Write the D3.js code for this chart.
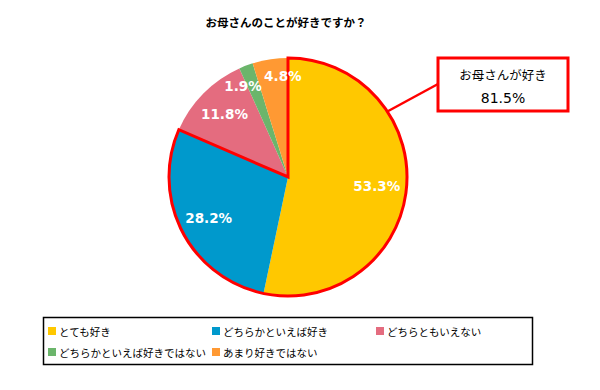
<!DOCTYPE html>
<html>
<head>
<meta charset="utf-8">
<script src="https://cdn.jsdelivr.net/npm/d3@7"></script>
<style>
	body { margin: 0; background: #fff; }
	svg text { font-family: "Noto Sans CJK JP", "Noto Sans", sans-serif; }
	svg text.num { font-family: "DejaVu Sans", "Noto Sans CJK JP", sans-serif; }
</style>
</head>
<body>
<div id="chart"></div>
<script>
var title = 'お母さんのことが好きですか？';
var categories = ['とても好き', 'どちらかといえば好き', 'どちらともいえない', 'どちらかといえば好きではない', 'あまり好きではない'];
var values = [53.3, 28.2, 11.8, 1.9, 4.8];
var colors = ['#ffc800', '#0099cc', '#e46c7f', '#6bb56b', '#ff9933'];
var calloutLabel = 'お母さんが好き';
var calloutCount = 2; // first two slices

// chart init
var width = 600;
var height = 390;
var cx = 288;
var cy = 177;
var radius = 119;

var svg = d3.select('#chart')
	.append('svg')
	.attr('width', width)
	.attr('height', height);

svg.append('text')
	.attr('x', 286)
	.attr('y', 22)
	.attr('text-anchor', 'middle')
	.attr('dominant-baseline', 'central')
	.attr('font-size', 11.5)
	.attr('font-weight', 'bold')
	.text(title);

var pie = d3.pie().sort(null).value(function(d) { return d; });
var arcs = pie(values);
var total = d3.sum(values);

var arc = d3.arc().innerRadius(0).outerRadius(radius);

var wrapper = svg.append('g')
	.attr('transform', 'translate(' + cx + ',' + cy + ')');

wrapper.selectAll('.slice')
	.data(arcs)
	.enter()
	.append('path')
	.attr('class', 'slice')
	.attr('fill', function(d, i) { return colors[i]; })
	.attr('d', arc);

// red outline around the "好き" group
var groupSum = d3.sum(values.slice(0, calloutCount));
var groupEnd = arcs[calloutCount - 1].endAngle;

wrapper.append('path')
	.attr('fill', 'none')
	.attr('stroke', '#ff0000')
	.attr('stroke-width', 3)
	.attr('d', arc({ startAngle: 0, endAngle: groupEnd }));

// label angles, small neighbouring slices spread apart
var labelAngles = arcs.map(function(d) { return (d.startAngle + d.endAngle) / 2; });
var minGap = 0.41;
for (var i = 1; i < arcs.length; i++) {
	var gap = labelAngles[i] - labelAngles[i - 1];
	if (gap < minGap) {
		var push = (minGap - gap) / 2;
		labelAngles[i - 1] -= push;
		labelAngles[i] += push;
	}
}

wrapper.selectAll('.label')
	.data(arcs)
	.enter()
	.append('text')
	.attr('class', 'label num')
	.attr('transform', function(d, i) {
		var k = d.data / total < 0.08 ? 0.85 : 0.75;
		var p = d3.pointRadial(labelAngles[i], radius * k);
		return 'translate(' + p[0] + ',' + p[1] + ')';
	})
	.attr('text-anchor', 'middle')
	.attr('dominant-baseline', 'central')
	.attr('fill', '#fff')
	.attr('font-size', 13.5)
	.attr('font-weight', 'bold')
	.text(function(d) { return d3.format('.1f')(d.data) + '%'; });

// callout
var box = { x: 438, y: 58, w: 130, h: 53 };
var edge = d3.pointRadial(0.988, radius);

svg.append('line')
	.attr('x1', cx + edge[0])
	.attr('y1', cy + edge[1])
	.attr('x2', box.x)
	.attr('y2', box.y + 26)
	.attr('stroke', '#ff0000')
	.attr('stroke-width', 2.5);

svg.append('rect')
	.attr('x', box.x)
	.attr('y', box.y)
	.attr('width', box.w)
	.attr('height', box.h)
	.attr('fill', '#fff')
	.attr('stroke', '#ff0000')
	.attr('stroke-width', 3);

svg.append('text')
	.attr('x', box.x + box.w / 2)
	.attr('y', box.y + 16)
	.attr('text-anchor', 'middle')
	.attr('dominant-baseline', 'central')
	.attr('font-size', 12.5)
	.text(calloutLabel);

svg.append('text')
	.attr('class', 'num')
	.attr('x', box.x + box.w / 2)
	.attr('y', box.y + 40)
	.attr('text-anchor', 'middle')
	.attr('dominant-baseline', 'central')
	.attr('font-size', 14)
	.text(d3.format('.1f')(groupSum) + '%');

// legend
svg.append('rect')
	.attr('x', 43.5)
	.attr('y', 317.5)
	.attr('width', 489)
	.attr('height', 47)
	.attr('fill', 'none')
	.attr('stroke', '#000')
	.attr('stroke-width', 1.5);

var colX = [48, 212, 376];
var rowY = [331, 352];

var legend = svg.selectAll('.legend')
	.data(categories)
	.enter()
	.append('g')
	.attr('class', 'legend')
	.attr('transform', function(d, i) {
		return 'translate(' + colX[i % 3] + ',' + rowY[Math.floor(i / 3)] + ')';
	});

legend.append('rect')
	.attr('x', 0)
	.attr('y', -4)
	.attr('width', 8)
	.attr('height', 8)
	.attr('fill', function(d, i) { return colors[i]; });

legend.append('text')
	.attr('x', 11)
	.attr('dominant-baseline', 'central')
	.attr('font-size', 10.5)
	.text(function(d) { return d; });
</script>
</body>
</html>
